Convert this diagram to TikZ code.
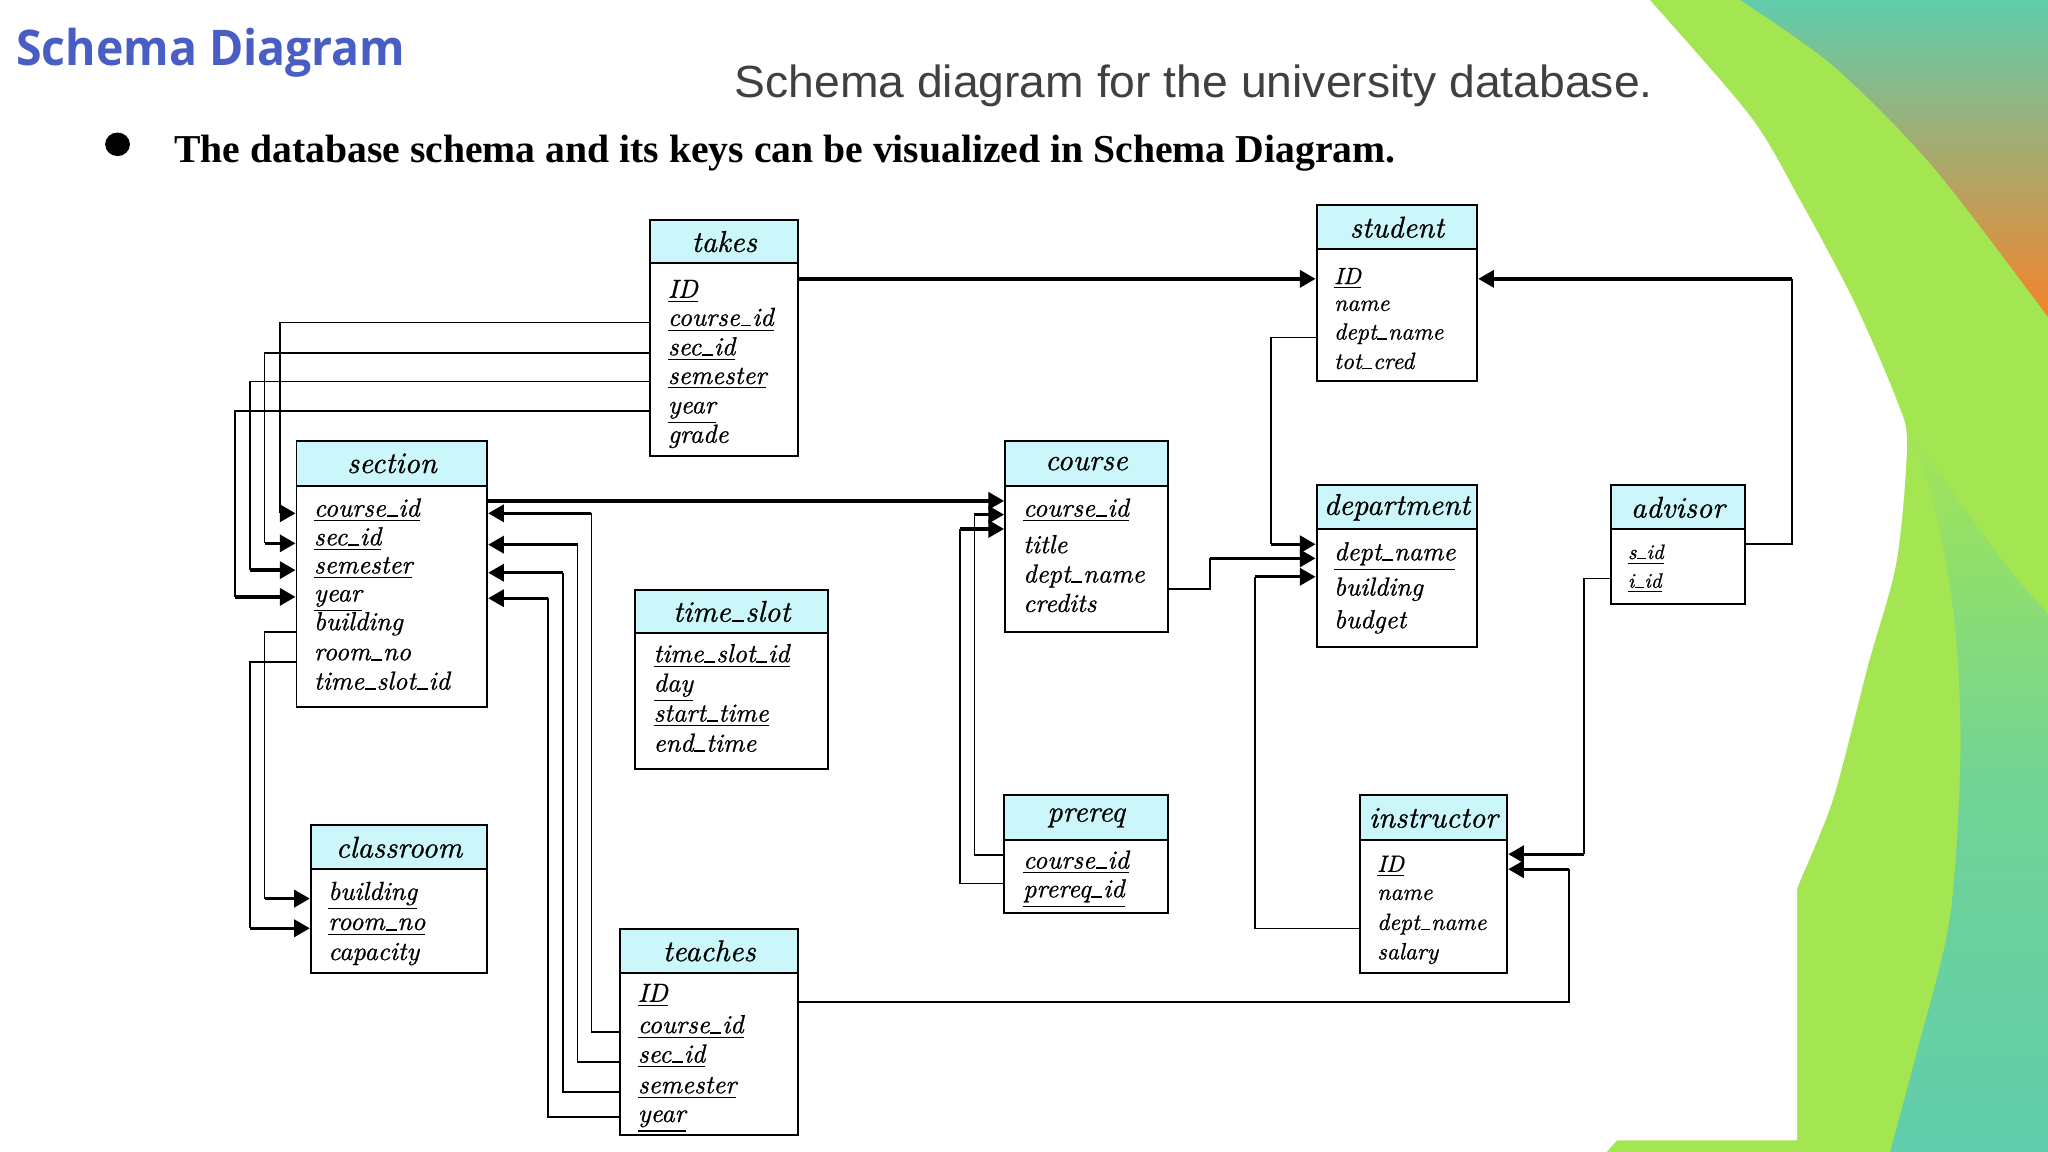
\documentclass[tikz,border=0pt]{standalone}
\usepackage{fontspec}
\usepackage{graphicx}
\usetikzlibrary{calc,arrows.meta}
\newfontfamily\ttlfont{Open Sans}
\newfontfamily\subfont{Liberation Sans}
\newfontfamily\bodyfont{Liberation Serif}
\newfontfamily\fldit{lmroman10-italic.otf}[FakeBold=0.8]
\newcommand\us{\kern0.03em\rule[-0.05ex]{0.42em}{0.07em}\kern0.03em}
\definecolor{hdr}{RGB}{204,247,250}
\definecolor{ttlblue}{RGB}{72,94,196}
\definecolor{subgray}{RGB}{64,64,64}
\definecolor{bgteal}{RGB}{96,205,172}
\definecolor{bggreen}{RGB}{164,230,82}
\definecolor{bgorange}{RGB}{248,130,40}
\tikzset{
  tblhead/.style={draw=black, line width=0.75pt, fill=hdr, inner sep=0pt, font=\fontsize{11.5}{13}\selectfont\fldit},
  tblbody/.style={draw=black, line width=0.75pt, fill=white, inner sep=0pt},
  fieldst/.style={anchor=base west, inner sep=0pt, font=\fontsize{10}{12}\selectfont\fldit},
  smallfld/.style={font=\fontsize{9}{11}\selectfont\fldit},
  tinyfld/.style={font=\fontsize{8}{10}\selectfont\fldit},
  thinln/.style={line width=0.65pt},
  thickln/.style={line width=1.3pt},
  arrowend/.style={-{Triangle[length=6pt,width=6.5pt]}},
}
\newcommand\dbtab[7]{%
  \node[tblbody, minimum width={(#4-#2)*0.5pt}, minimum height={(#6-#5)*0.5pt}] (#1) at ({(#2+#4)/2},{(#5+#6)/2}) {};
  \node[tblhead, minimum width={(#4-#2)*0.5pt}, minimum height={(#5-#3)*0.5pt}] (#1h) at ({(#2+#4)/2},{(#3+#5)/2}) {#7};
}
\newcommand\fld[5][]{\node[fieldst,#1] (#2) at (#3,#4) {#5};}
\newcommand\elbow[3]{\draw[thinln] (#1) -| (#2); \draw[thickln,arrowend] (#2) -- (#3);}
\begin{document}
\begin{tikzpicture}[x=0.5pt,y=-0.5pt]
\useasboundingbox (0,0) rectangle (1568,882);
% ---------- background ----------
\fill[bgteal] (0,0) rectangle (1568,882);
\shade[top color=bgteal, bottom color=bgorange] (1300,0) rectangle (1568,250);
\fill[bggreen] (1240,0) -- plot[smooth] coordinates {(1332,0) (1404,51) (1480,128) (1568,243)} -- (1568,882) -- (1150,882) -- cycle;
\shade[top color=bggreen, bottom color=bgteal, middle color=bgteal!75!bggreen]
  plot[smooth] coordinates {(1457,322) (1480,383) (1496,472) (1501,574) (1493,702) (1468,804) (1447,882)}
  -- (1568,882) -- (1568,470) .. controls (1520,420) and (1480,350) .. (1457,322) -- cycle;
\fill[white] (0,882) -- (0,0) -- plot[smooth] coordinates {(1263,0) (1340,89) (1378,153) (1419,230) (1452,306) (1460,340) (1452,430) (1430,510) (1404,610) (1380,670)} -- (1376,680) -- (1376,873) -- (1238,873) -- (1230,882) -- cycle;
% ---------- titles ----------
\node[anchor=base west, inner sep=0pt, text=ttlblue] (title) at (12,50.3) {\resizebox{149pt}{14.3pt}{\ttlfont\bfseries Schema Diagram}};
\node[anchor=base west, inner sep=0pt, text=subgray] (subtitle) at (562,74.8) {\resizebox{351.5pt}{12.5pt}{\subfont Schema diagram for the university database.}};
\fill (90,110.5) ellipse [x radius=9.5, y radius=9];
\node[anchor=base west, inner sep=0pt] (bullet) at (133,124.3) {\resizebox{467.5pt}{10.5pt}{\bodyfont\bfseries The database schema and its keys can be visualized in Schema Diagram.}};
% ---------- tables ----------
\dbtab{takes}{498}{168.5}{611}{201.5}{349}{takes}
\dbtab{student}{1008}{157}{1131}{191}{292}{student}
\dbtab{section}{227}{337.5}{373}{372}{541}{section}
\dbtab{course}{769.5}{338}{894}{372}{484}{course}
\dbtab{department}{1008}{371.6}{1131}{405.3}{495.6}{department}
\dbtab{advisor}{1233.5}{371.6}{1335.8}{405.3}{462.5}{advisor}
\dbtab{timeslot}{486.5}{451.5}{634}{485}{589}{time\us slot}
\dbtab{prereq}{769}{609}{894}{643.4}{699.3}{prereq}
\dbtab{instructor}{1041}{609}{1154}{643.4}{745.3}{instructor}
\dbtab{classroom}{238}{632}{373}{665.4}{745}{classroom}
\dbtab{teaches}{475}{711}{611}{745}{869}{teaches}
% ---------- fields ----------
\fld{tk1}{511}{228}{\underline{ID}}
\fld{tk2}{511}{249.5}{\underline{course\us id}}
\fld{tk3}{511}{272}{\underline{sec\us id}}
\fld{tk4}{511}{294}{\underline{semester}}
\fld{tk5}{511}{316.5}{\underline{year}}
\fld{tk6}{511}{339}{grade}
\fld[smallfld]{st1}{1021}{217.5}{\underline{ID}}
\fld[smallfld]{st2}{1021}{238}{name}
\fld[smallfld]{st3}{1021}{260}{dept\us name}
\fld[smallfld]{st4}{1021}{282.5}{tot\us cred}
\fld{sc1}{240}{395.5}{\underline{course\us id}}
\fld{sc2}{240}{417.5}{\underline{sec\us id}}
\fld{sc3}{240}{439}{\underline{semester}}
\fld{sc4}{240}{460.5}{\underline{year}}
\fld{sc5}{240}{482.5}{building}
\fld{sc6}{240}{505.5}{room\us no}
\fld{sc7}{240}{528}{time\us slot\us id}
\fld{co1}{783}{395.5}{\underline{course\us id}}
\fld{co2}{783}{423.5}{title}
\fld{co3}{783}{446}{dept\us name}
\fld{co4}{783}{468.5}{credits}
\fld{dp1}{1021}{429}{\underline{dept\us name}}
\fld{dp2}{1021}{456}{building}
\fld{dp3}{1021}{481}{budget}
\fld[tinyfld]{ad1}{1246}{428}{\underline{s\us id}}
\fld[tinyfld]{ad2}{1246}{450}{\underline{i\us id}}
\fld{ts1}{500}{507}{\underline{time\us slot\us id}}
\fld{ts2}{500}{529.5}{\underline{day}}
\fld{ts3}{500}{552.5}{\underline{start\us time}}
\fld{ts4}{500}{575.5}{end\us time}
\fld{pr1}{783}{665}{\underline{course\us id}}
\fld{pr2}{783}{687}{\underline{prereq\us id}}
\fld[smallfld]{in1}{1054}{667.5}{\underline{ID}}
\fld[smallfld]{in2}{1054}{689}{name}
\fld[smallfld]{in3}{1054}{712}{dept\us name}
\fld[smallfld]{in4}{1054}{734.5}{salary}
\fld{cl1}{251}{689}{\underline{building}}
\fld{cl2}{251}{712}{\underline{room\us no}}
\fld{cl3}{251}{735}{capacity}
\fld{te1}{488}{767}{\underline{ID}}
\fld{te2}{488}{791}{\underline{course\us id}}
\fld{te3}{488}{813.5}{\underline{sec\us id}}
\fld{te4}{488}{837}{\underline{semester}}
\fld{te5}{488}{859}{\underline{year}}
% ---------- connectors ----------
% takes -> student
\coordinate (stIn) at ($(st1.base -| student.west)+(0,-4)$);
\draw[thickln,arrowend] (takes.east |- stIn) -- (stIn);
% advisor -> student
\coordinate (stIn2) at ($(st1.base -| student.east)+(0,-4)$);
\coordinate (advOut1) at ($(ad1.base -| advisor.east)+(0,-11.5)$);
\coordinate (cA) at ($(stIn2)+(240,0)$);
\elbow{advOut1}{cA}{stIn2}
% advisor -> instructor
\coordinate (inIn1) at ($(in1.base -| instructor.east)+(0,-13.5)$);
\coordinate (advOut2) at ($(ad2.base -| advisor.west)+(0,-7)$);
\coordinate (cB) at ($(inIn1)+(57.8,0)$);
\elbow{advOut2}{cB}{inIn1}
% teaches -> instructor
\coordinate (inIn2) at ($(in1.base -| instructor.east)+(0,-2)$);
\coordinate (teOut0) at (te1.base -| teaches.east);
\coordinate (cC) at ($(inIn2)+(46.4,0)$);
\elbow{teOut0}{cC}{inIn2}
% student -> department
\coordinate (dpIn1) at ($(dp1.base -| department.west)+(0,-12.3)$);
\coordinate (stOut) at ($(st3.base -| student.west)+(0,-1.5)$);
\coordinate (cD) at ($(dpIn1)+(-34.4,0)$);
\elbow{stOut}{cD}{dpIn1}
% course -> department
\coordinate (dpIn2) at ($(dp1.base -| department.west)+(0,-1.5)$);
\coordinate (coOut) at ($(co3.base -| course.east)+(0,5)$);
\coordinate (cE) at ($(dpIn2)+(-81,0)$);
\elbow{coOut}{cE}{dpIn2}
% instructor -> department
\coordinate (dpIn3) at ($(dp1.base -| department.west)+(0,12.6)$);
\coordinate (inOut) at ($(in3.base -| instructor.west)+(0,-1.2)$);
\coordinate (cF) at ($(dpIn3)+(-46.3,0)$);
\elbow{inOut}{cF}{dpIn3}
% section -> course
\coordinate (coIn1) at ($(co1.base -| course.west)+(0,-12)$);
\draw[thickln,arrowend] (section.east |- coIn1) -- (coIn1);
% prereq -> course
\coordinate (coIn2) at ($(co1.base -| course.west)+(0,-1.5)$);
\coordinate (coIn3) at ($(co1.base -| course.west)+(0,9.5)$);
\coordinate (prOut1) at ($(pr1.base -| prereq.west)+(0,-10.3)$);
\coordinate (prOut2) at ($(pr2.base -| prereq.west)+(0,-10.6)$);
\coordinate (cG) at ($(coIn2)+(-22.7,0)$);
\coordinate (cH) at ($(coIn3)+(-34,0)$);
\elbow{prOut1}{cG}{coIn2}
\elbow{prOut2}{cH}{coIn3}
% takes -> section
\coordinate (tkO2) at ($(tk2.base -| takes.west)+(0,-2.5)$);
\coordinate (tkO3) at ($(tk3.base -| takes.west)+(0,-2)$);
\coordinate (tkO4) at ($(tk4.base -| takes.west)+(0,-2)$);
\coordinate (tkO5) at ($(tk5.base -| takes.west)+(0,-2)$);
\coordinate (scL1) at ($(sc1.base -| section.west)+(0,-2.5)$);
\coordinate (scL2) at ($(sc2.base -| section.west)+(0,-1.5)$);
\coordinate (scL3) at ($(sc3.base -| section.west)+(0,-2.5)$);
\coordinate (scL4) at ($(sc4.base -| section.west)+(0,-3.5)$);
\coordinate (cT1) at ($(scL1)+(-12,0)$);
\coordinate (cT2) at ($(scL2)+(-23.7,0)$);
\coordinate (cT3) at ($(scL3)+(-35,0)$);
\coordinate (cT4) at ($(scL4)+(-46.3,0)$);
\elbow{tkO2}{cT1}{scL1}
\elbow{tkO3}{cT2}{scL2}
\elbow{tkO4}{cT3}{scL3}
\elbow{tkO5}{cT4}{scL4}
% teaches -> section
\coordinate (teO2) at ($(te2.base -| teaches.west)+(0,-1)$);
\coordinate (teO3) at ($(te3.base -| teaches.west)+(0,-0.5)$);
\coordinate (teO4) at ($(te4.base -| teaches.west)+(0,-1)$);
\coordinate (teO5) at ($(te5.base -| teaches.west)+(0,-4)$);
\coordinate (scR1) at ($(sc1.base -| section.east)+(0,-2.5)$);
\coordinate (scR2) at ($(sc2.base -| section.east)+(0,-0.5)$);
\coordinate (scR3) at ($(sc3.base -| section.east)+(0,-0.5)$);
\coordinate (scR4) at ($(sc4.base -| section.east)+(0,-2.5)$);
\coordinate (cU1) at ($(scR1)+(79,0)$);
\coordinate (cU2) at ($(scR2)+(68.4,0)$);
\coordinate (cU3) at ($(scR3)+(57.3,0)$);
\coordinate (cU4) at ($(scR4)+(45.8,0)$);
\elbow{teO2}{cU1}{scR1}
\elbow{teO3}{cU2}{scR2}
\elbow{teO4}{cU3}{scR3}
\elbow{teO5}{cU4}{scR4}
% section -> classroom
\coordinate (scO5) at ($(sc5.base -| section.west)+(0,1.5)$);
\coordinate (scO6) at ($(sc6.base -| section.west)+(0,1.5)$);
\coordinate (clIn1) at ($(cl1.base -| classroom.west)+(0,-1)$);
\coordinate (clIn2) at ($(cl2.base -| classroom.west)+(0,-1.3)$);
\coordinate (cV1) at ($(clIn1)+(-34.7,0)$);
\coordinate (cV2) at ($(clIn2)+(-46,0)$);
\elbow{scO5}{cV1}{clIn1}
\elbow{scO6}{cV2}{clIn2}
\end{tikzpicture}
\end{document}
